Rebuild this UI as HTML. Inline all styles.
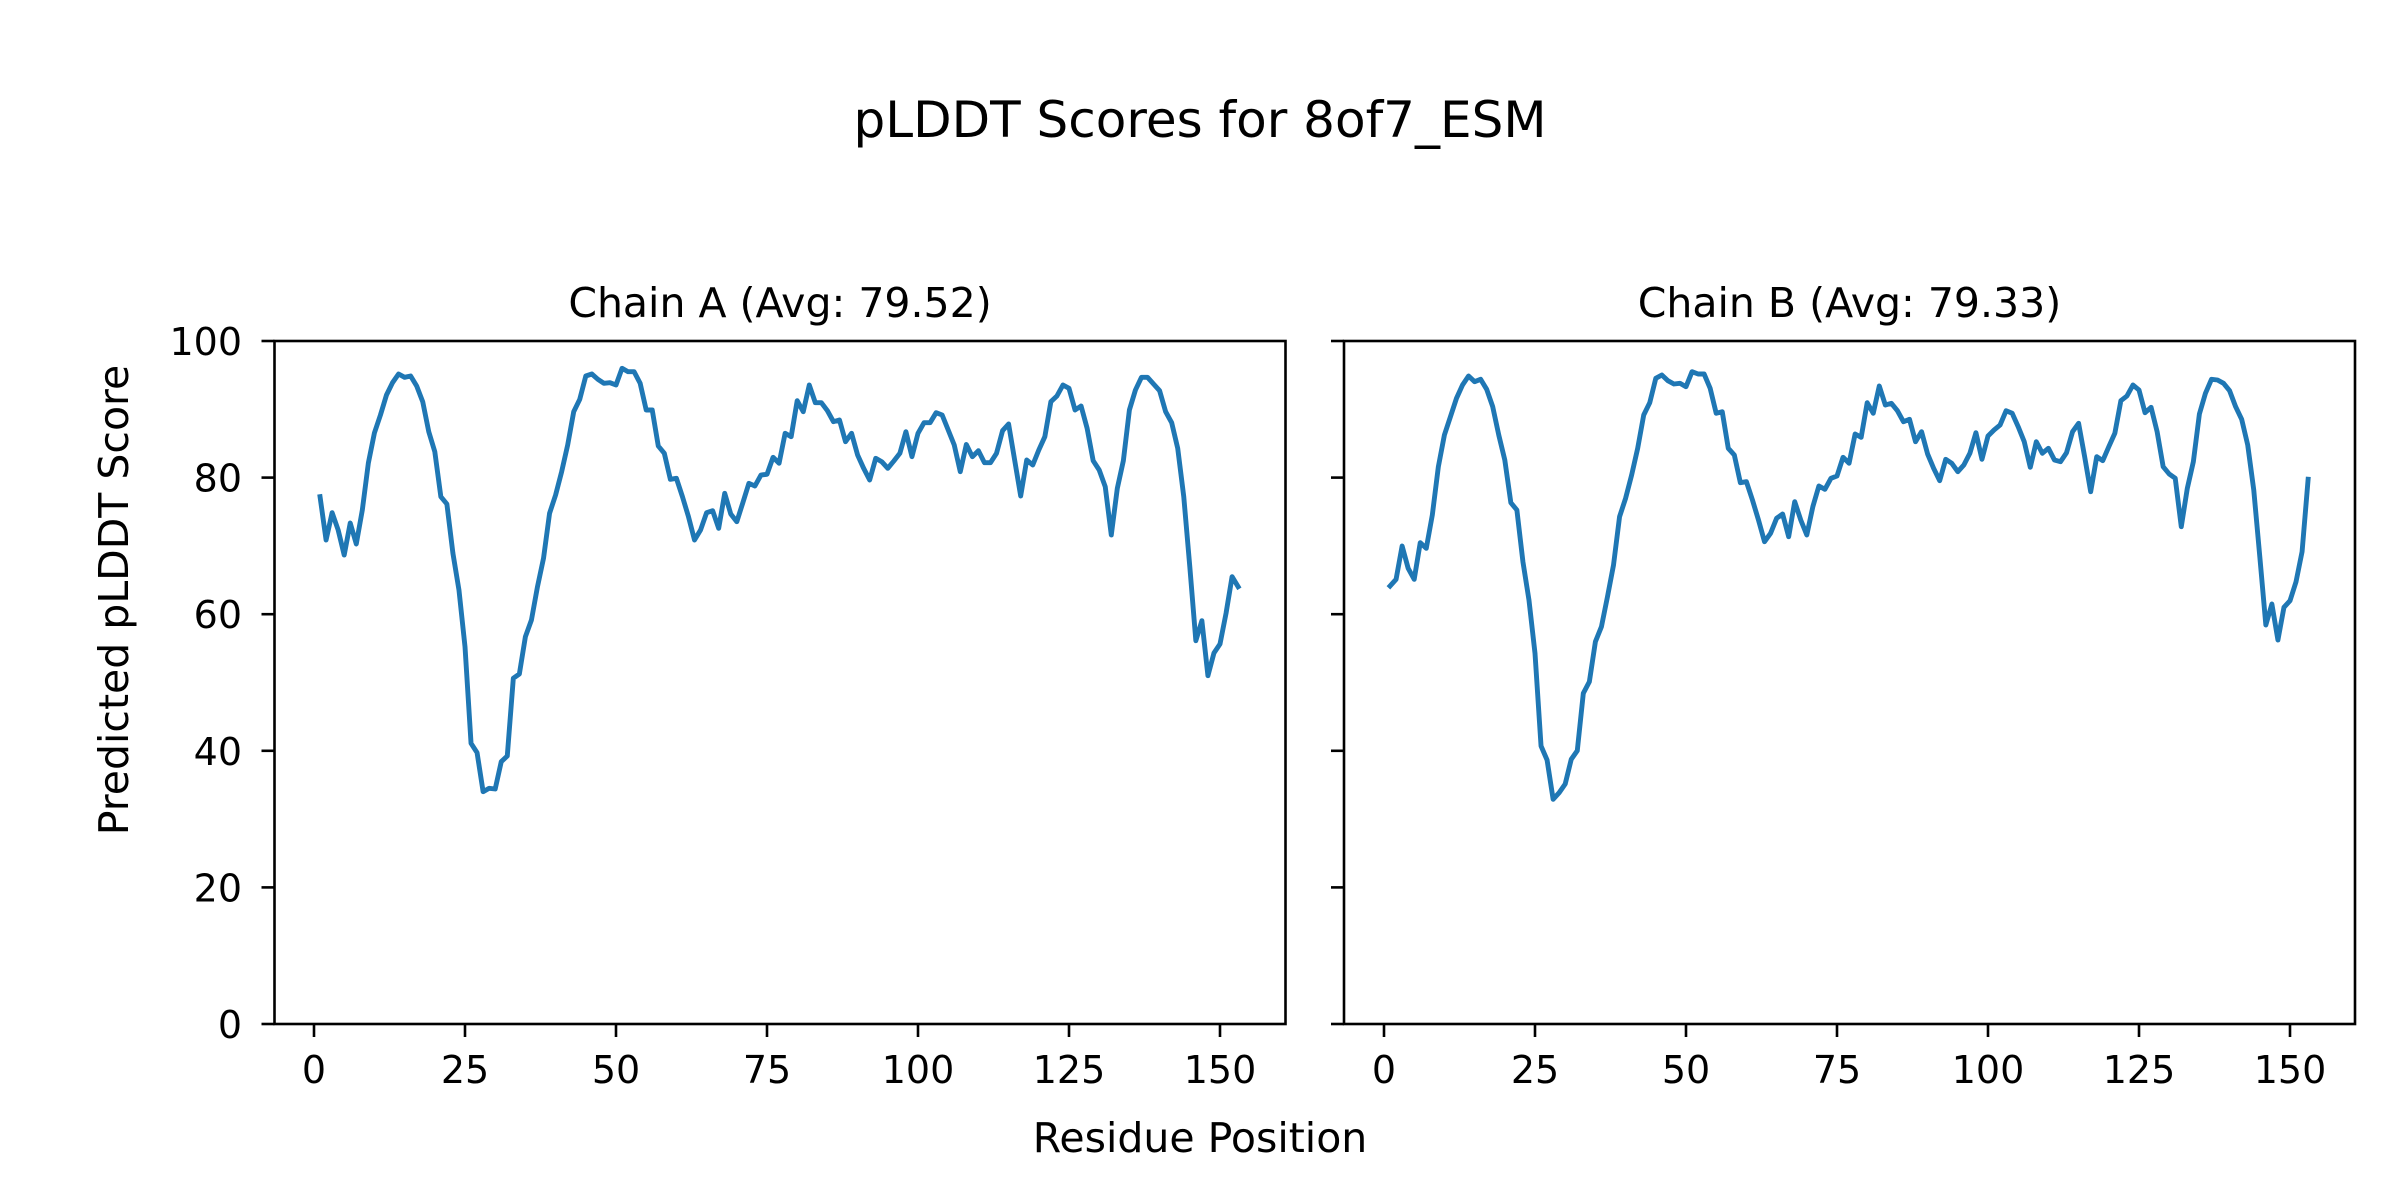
<!DOCTYPE html>
<html>
<head>
<meta charset="utf-8">
<style>
  html, body { margin: 0; padding: 0; background: #ffffff; }
  body { width: 2400px; height: 1200px; overflow: hidden; }
  svg { display: block; }
  text { font-family: "DejaVu Sans", "Liberation Sans", sans-serif; fill: #000; }
</style>
</head>
<body>
<svg width="2400" height="1200" viewBox="0 0 2400 1200" xmlns="http://www.w3.org/2000/svg">
  <rect x="0" y="0" width="2400" height="1200" fill="#ffffff"/>

  <!-- Suptitle -->
  <text x="1200" y="137" font-size="50" text-anchor="middle">pLDDT Scores for 8of7_ESM</text>

  <!-- Subplot titles -->
  <text x="780" y="317" font-size="41" text-anchor="middle">Chain A (Avg: 79.52)</text>
  <text x="1849.5" y="317" font-size="41" text-anchor="middle">Chain B (Avg: 79.33)</text>

  <!-- Data series A -->
  <g transform="translate(314,0) scale(6.04,1)">
    <polyline fill="none" stroke="#1f77b4" stroke-width="4.9" stroke-linejoin="round" stroke-linecap="square" vector-effect="non-scaling-stroke"
      points="1,496.7 2,540 3,512.7 4,530 5,555 6,523 7,544 8,510 9,463 10,433 11,415 12,395 13,382.7 14,374 15,377.3 16,376 17,386 18,401.7 19,431.7 20,451.7 21,496.7 22,504 23,553.3 24,590 25,646.7 26,743.3 27,752.7 28,791.7 29,788.3 30,789 31,761.7 32,756 33,678.3 34,674 35,636.7 36,620 37,586.7 38,558.3 39,513.3 40,495 41,471.7 42,445 43,411.7 44,399.3 45,376 46,374 47,379.3 48,383.3 49,382.7 50,385 51,368.3 52,371.7 53,371.7 54,383.3 55,410 56,410 57,446 58,453.3 59,479.3 60,478.3 61,496.7 62,516.7 63,540 64,530 65,512.7 66,510.7 67,528.3 68,493.3 69,514 70,521.7 71,502.7 72,483.3 73,486 74,475 75,474.3 76,457.3 77,463.3 78,433.3 79,436.7 80,400.7 81,411.7 82,385 83,402.7 84,402.7 85,410.7 86,421.7 87,420 88,441.7 89,433.3 90,455 91,468.3 92,480 93,458.3 94,461.7 95,468.3 96,461 97,453.3 98,431.7 99,456.7 100,433.3 101,422.7 102,422.7 103,412.7 104,415 105,430 106,445 107,471.7 108,444.5 109,456.7 110,450.7 111,462.7 112,462.7 113,453.3 114,430.7 115,424 116,460 117,496 118,460 119,465 120,450 121,436.7 122,401.7 123,396 124,385 125,388.3 126,410 127,406 128,428.3 129,460.7 130,470 131,486.7 132,535 133,488.3 134,460.7 135,410 136,390 137,377.3 138,377.3 139,384 140,390.7 141,411.7 142,422.7 143,448.3 144,496.7 145,566.7 146,640.7 147,620.7 148,675.7 149,653 150,644 151,613.3 152,576.7 153,586.7"/>
  </g>

  <!-- Data series B -->
  <g transform="translate(1384,0) scale(6.04,1)">
    <polyline fill="none" stroke="#1f77b4" stroke-width="4.9" stroke-linejoin="round" stroke-linecap="square" vector-effect="non-scaling-stroke"
      points="1,586 2,579.3 3,546 4,568.3 5,579.3 6,542.7 7,548.3 8,515 9,466.7 10,435 11,416.7 12,398.3 13,385 14,376 15,381.7 16,379.3 17,389.3 18,406.7 19,435 20,460 21,502.7 22,510 23,561.7 24,600 25,653.3 26,746 27,760 28,799.3 29,792.7 30,784 31,759.3 32,750.7 33,693.3 34,681.7 35,641.7 36,626.7 37,596.7 38,565 39,516.7 40,498.3 41,475 42,448.3 43,415 44,402.7 45,378.3 46,375 47,380.7 48,384 49,383.3 50,386.7 51,371.7 52,374 53,374 54,388.3 55,413.3 56,411.7 57,448.3 58,455 59,482.7 60,481.7 61,500 62,520 63,541.7 64,533.3 65,518.3 66,514 67,536.7 68,501.7 69,520 70,535 71,506.7 72,486 73,489.3 74,478.3 75,476 76,457.3 77,463.3 78,434 79,437.3 80,402.7 81,413.3 82,386 83,405 84,403.3 85,410.7 86,421.7 87,419.3 88,441.7 89,431.7 90,454 91,468.3 92,480.7 93,459.3 94,463.3 95,471.7 96,465 97,453.3 98,432.7 99,459.3 100,436 101,430 102,425 103,410.7 104,413.3 105,426.7 106,441.7 107,467.3 108,441.7 109,453.3 110,448.3 111,460 112,461.7 113,452.7 114,431.7 115,423.3 116,456.7 117,491.7 118,456.7 119,460.7 120,446.7 121,433.3 122,400.7 123,396 124,385 125,390 126,412.7 127,407.3 128,431.7 129,466.7 130,474 131,478.3 132,526.7 133,488.3 134,461.7 135,414 136,393.3 137,379.3 138,380 139,383.3 140,390.7 141,406.7 142,419.3 143,445 144,490 145,556.7 146,625 147,604 148,640 149,607.3 150,600.7 151,581.7 152,551.7 153,479.3"/>
  </g>

  <!-- Axes frames -->
  <rect x="274.5" y="341" width="1011" height="683" fill="none" stroke="#000" stroke-width="2.6"/>
  <rect x="1344" y="341" width="1011" height="683" fill="none" stroke="#000" stroke-width="2.6"/>

  <!-- Ticks -->
  <g stroke="#000" stroke-width="2.6">
    <line x1="261.5" y1="1024" x2="274.5" y2="1024"/>
    <line x1="261.5" y1="887.4" x2="274.5" y2="887.4"/>
    <line x1="261.5" y1="750.8" x2="274.5" y2="750.8"/>
    <line x1="261.5" y1="614.2" x2="274.5" y2="614.2"/>
    <line x1="261.5" y1="477.6" x2="274.5" y2="477.6"/>
    <line x1="261.5" y1="341" x2="274.5" y2="341"/>

    <line x1="1331" y1="1024" x2="1344" y2="1024"/>
    <line x1="1331" y1="887.4" x2="1344" y2="887.4"/>
    <line x1="1331" y1="750.8" x2="1344" y2="750.8"/>
    <line x1="1331" y1="614.2" x2="1344" y2="614.2"/>
    <line x1="1331" y1="477.6" x2="1344" y2="477.6"/>
    <line x1="1331" y1="341" x2="1344" y2="341"/>

    <line x1="314" y1="1024" x2="314" y2="1037"/>
    <line x1="465" y1="1024" x2="465" y2="1037"/>
    <line x1="616" y1="1024" x2="616" y2="1037"/>
    <line x1="767" y1="1024" x2="767" y2="1037"/>
    <line x1="918" y1="1024" x2="918" y2="1037"/>
    <line x1="1069" y1="1024" x2="1069" y2="1037"/>
    <line x1="1220" y1="1024" x2="1220" y2="1037"/>

    <line x1="1384" y1="1024" x2="1384" y2="1037"/>
    <line x1="1535" y1="1024" x2="1535" y2="1037"/>
    <line x1="1686" y1="1024" x2="1686" y2="1037"/>
    <line x1="1837" y1="1024" x2="1837" y2="1037"/>
    <line x1="1988" y1="1024" x2="1988" y2="1037"/>
    <line x1="2139" y1="1024" x2="2139" y2="1037"/>
    <line x1="2290" y1="1024" x2="2290" y2="1037"/>
  </g>

  <!-- Y tick labels -->
  <g font-size="38" text-anchor="end">
    <text x="242" y="1038">0</text>
    <text x="242" y="901.4">20</text>
    <text x="242" y="764.8">40</text>
    <text x="242" y="628.2">60</text>
    <text x="242" y="491.6">80</text>
    <text x="242" y="355">100</text>
  </g>

  <!-- X tick labels -->
  <g font-size="38" text-anchor="middle">
    <text x="314" y="1083">0</text>
    <text x="465" y="1083">25</text>
    <text x="616" y="1083">50</text>
    <text x="767" y="1083">75</text>
    <text x="918" y="1083">100</text>
    <text x="1069" y="1083">125</text>
    <text x="1220" y="1083">150</text>

    <text x="1384" y="1083">0</text>
    <text x="1535" y="1083">25</text>
    <text x="1686" y="1083">50</text>
    <text x="1837" y="1083">75</text>
    <text x="1988" y="1083">100</text>
    <text x="2139" y="1083">125</text>
    <text x="2290" y="1083">150</text>
  </g>

  <!-- Axis labels -->
  <text x="1200" y="1152" font-size="41" text-anchor="middle">Residue Position</text>
  <text x="0" y="0" font-size="41" text-anchor="middle" transform="translate(128,600) rotate(-90)">Predicted pLDDT Score</text>
</svg>
</body>
</html>
